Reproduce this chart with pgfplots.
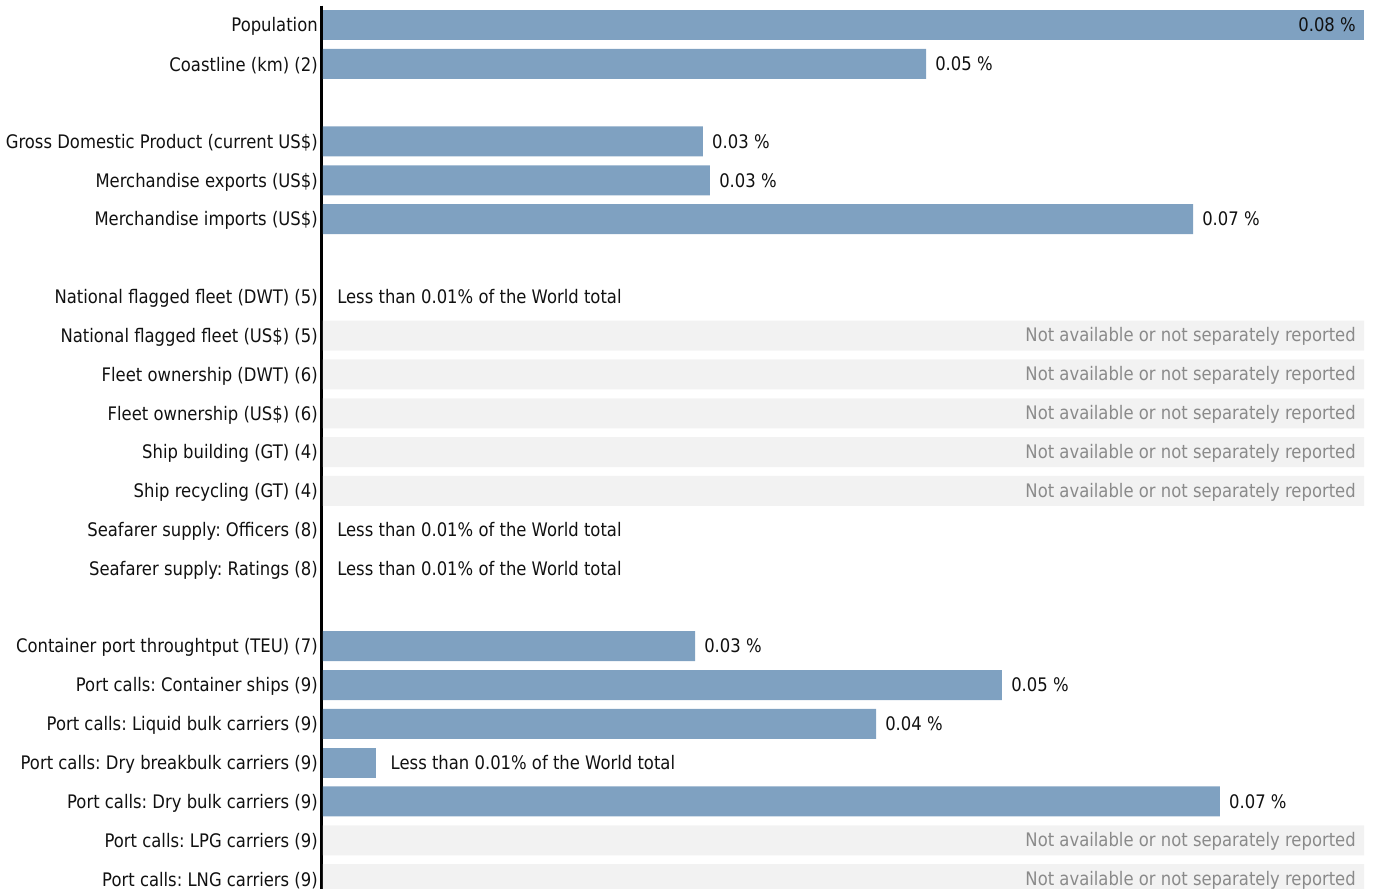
\documentclass[border=0pt]{standalone}
\usepackage{pgfplots}
\pgfplotsset{compat=1.18}
\usepackage{fontspec}
\setmainfont{DejaVu Sans}[FakeStretch=0.88]
\frenchspacing
\definecolor{barblue}{HTML}{7FA1C1}
\definecolor{nabg}{HTML}{F2F2F2}
\definecolor{natext}{HTML}{8A8A8A}
\definecolor{lbl}{HTML}{111111}
\newcommand{\lf}{\fontsize{14}{16}\selectfont}
\begin{document}
\begin{tikzpicture}
\begin{axis}[
  at={(242.25pt,-4.2pt)}, anchor=north west,
  scale only axis, width=780.75pt, height=669.7pt,
  xmin=0, xmax=0.08, ymin=-0.5, ymax=22.5, y dir=reverse,
  axis x line=none, axis y line*=left,
  y axis line style={black, line width=2pt, xshift=-1pt},
  clip=false,
  major tick length=0pt,
  ytick={0,1,3,4,5,7,8,9,10,11,12,13,14,16,17,18,19,20,21,22},
  yticklabels={Population, Coastline (km) (2), Gross Domestic Product (current US\$), Merchandise exports (US\$), Merchandise imports (US\$), National flagged fleet (DWT) (5), National flagged fleet (US\$) (5), Fleet ownership (DWT) (6), Fleet ownership (US\$) (6), Ship building (GT) (4), Ship recycling (GT) (4), Seafarer supply: Officers (8), Seafarer supply: Ratings (8), Container port throughtput (TEU) (7), Port calls: Container ships (9), Port calls: Liquid bulk carriers (9), Port calls: Dry breakbulk carriers (9), Port calls: Dry bulk carriers (9), Port calls: LPG carriers (9), Port calls: LNG carriers (9)},
  yticklabel style={font=\lf, text=lbl, anchor=east, inner sep=0pt, xshift=-3.75pt, yshift=-1.2pt},
  xbar, bar width=22.5pt, bar shift=0pt,
]
% not available rows
\addplot[xbar, bar shift=0pt, fill=nabg, draw=none,
  nodes near coords={Not available or not separately reported},
  every node near coord/.style={font=\lf, text=natext, anchor=east, inner sep=0pt, xshift=-6pt, yshift=-0.75pt}]
  coordinates {(0.08,8) (0.08,9) (0.08,10) (0.08,11) (0.08,12) (0.08,21) (0.08,22)};
% less than 0.01% rows without bar
\addplot[xbar, bar shift=0pt, fill=none, draw=none,
  nodes near coords={Less than 0.01\% of the World total},
  every node near coord/.style={font=\lf, text=lbl, anchor=west, inner sep=0pt, xshift=10.5pt}]
  coordinates {(0,7) (0,13) (0,14)};
% dry breakbulk
\addplot[xbar, bar shift=0pt, fill=barblue, draw=none,
  nodes near coords={Less than 0.01\% of the World total},
  every node near coord/.style={font=\lf, text=lbl, anchor=west, inner sep=0pt, xshift=10.5pt}]
  coordinates {(0.00411,19)};
% population
\addplot[xbar, bar shift=0pt, fill=barblue, draw=none,
  point meta=explicit symbolic, nodes near coords,
  every node near coord/.style={font=\lf, text=lbl, anchor=east, inner sep=0pt, xshift=-6pt}]
  coordinates {(0.08,0) [0.08 \%]};
% value bars
\addplot[xbar, bar shift=0pt, fill=barblue, draw=none,
  point meta=explicit symbolic, nodes near coords,
  every node near coord/.style={font=\lf, text=lbl, anchor=west, inner sep=0pt, xshift=6.75pt}]
  coordinates {
    (0.04634,1) [0.05 \%]
    (0.02920,3) [0.03 \%]
    (0.02974,4) [0.03 \%]
    (0.06686,5) [0.07 \%]
    (0.02859,16) [0.03 \%]
    (0.05218,17) [0.05 \%]
    (0.04250,18) [0.04 \%]
    (0.06893,20) [0.07 \%]
  };
\end{axis}
\pgfresetboundingbox
\useasboundingbox (0,0) rectangle (1031.25pt,-666.75pt);
\end{tikzpicture}
\end{document}
